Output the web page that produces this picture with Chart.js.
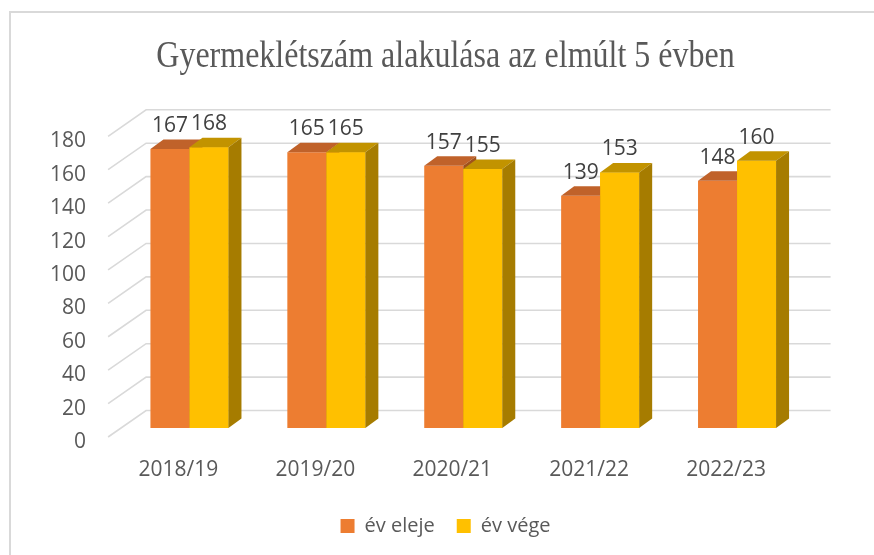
<!DOCTYPE html>
<html>
<head>
<meta charset="utf-8">
<script src="https://cdn.jsdelivr.net/npm/chart.js@4.4.0/dist/chart.umd.min.js"></script>
<style>
  html, body { margin: 0; padding: 0; background: #fff; overflow: hidden; width: 874px; height: 555px; }
  #keret { position: absolute; left: 9px; top: 11px; width: 871px; height: 560px;
           border-left: 2px solid #d9d9d9; border-top: 2px solid #d9d9d9; }
  #graf { position: absolute; left: 0; top: 0; }
</style>
</head>
<body>
<div id="keret"><canvas id="graf" width="869" height="542"></canvas></div>
<script>
// adatok
var cim = 'Gyermeklétszám alakulása az elmúlt 5 évben';
var evek = ['2018/19', '2019/20', '2020/21', '2021/22', '2022/23'];
var evEleje = [167, 165, 157, 139, 148];
var evVege = [168, 165, 155, 153, 160];
var yMin = 0, yMax = 180, yLepes = 20;

// szinek: elolap, teto, oldal
var szinek = [
  { elo: '#ED7D31', teto: '#C0622A', oldal: '#A0521C' },
  { elo: '#FFC000', teto: '#C29300', oldal: '#A67C00' }
];

// 3D hatas: padlo eleje / hatso fal eltolasa az oszlopok sikjahoz kepest
var padloX = -12.9, padloY = 9;
var falX = 25.1, falY = -17.5;
var oszlopMelyX = 13, oszlopMelyY = -9.5;

function lapok(ctx, b, c) {
  var p = b.getProps(['x', 'y', 'base', 'width'], true);
  var l = p.x - p.width / 2, r = p.x + p.width / 2;
  ctx.fillStyle = c.teto;
  ctx.beginPath();
  ctx.moveTo(l, p.y);
  ctx.lineTo(l + oszlopMelyX, p.y + oszlopMelyY);
  ctx.lineTo(r + oszlopMelyX, p.y + oszlopMelyY);
  ctx.lineTo(r, p.y);
  ctx.closePath();
  ctx.fill();
  ctx.fillStyle = c.oldal;
  ctx.beginPath();
  ctx.moveTo(r, p.y);
  ctx.lineTo(r + oszlopMelyX, p.y + oszlopMelyY);
  ctx.lineTo(r + oszlopMelyX, p.base + oszlopMelyY);
  ctx.lineTo(r, p.base);
  ctx.closePath();
  ctx.fill();
}

var haromD = {
  id: 'haromD',
  beforeDatasetsDraw: function (chart) {
    var ctx = chart.ctx, ca = chart.chartArea, y = chart.scales.y;
    ctx.save();
    ctx.strokeStyle = '#d9d9d9';
    ctx.lineWidth = 1.6;
    y.ticks.forEach(function (t) {
      var py = y.getPixelForValue(t.value);
      ctx.beginPath();
      ctx.moveTo(ca.left + padloX, py + padloY);
      ctx.lineTo(ca.left + falX, py + falY);
      ctx.lineTo(ca.right + falX, py + falY);
      ctx.stroke();
    });
    ctx.restore();
  },
  afterDatasetsDraw: function (chart) {
    var ctx = chart.ctx;
    var m0 = chart.getDatasetMeta(0), m1 = chart.getDatasetMeta(1);
    ctx.save();
    m0.data.forEach(function (b0, i) {
      var b1 = m1.data[i];
      lapok(ctx, b0, szinek[0]);
      b1.draw(ctx);
      lapok(ctx, b1, szinek[1]);
    });
    // ertekek
    ctx.font = '21px "Open Sans"';
    ctx.fillStyle = '#404040';
    ctx.textAlign = 'center';
    ctx.textBaseline = 'middle';
    chart.data.datasets.forEach(function (ds, di) {
      chart.getDatasetMeta(di).data.forEach(function (b, i) {
        ctx.fillText(ds.data[i], b.x, b.y - 23);
      });
    });
    ctx.restore();
  },
  afterDraw: function (chart) {
    // cim, kicsit megnyujtva fuggolegesen, mint az eredetin
    var ctx = chart.ctx;
    ctx.save();
    ctx.translate(chart.width / 2, 54);
    ctx.scale(1, 1.17);
    ctx.font = '32px "Liberation Serif"';
    ctx.fillStyle = '#595959';
    ctx.textAlign = 'center';
    ctx.textBaseline = 'alphabetic';
    ctx.fillText(cim, 0, 0);
    ctx.restore();
  }
};

var graf = new Chart(document.getElementById('graf'), {
  type: 'bar',
  data: {
    labels: evek,
    datasets: [{
      label: 'év eleje',
      data: evEleje,
      backgroundColor: szinek[0].elo,
      borderWidth: 0
    }, {
      label: 'év vége',
      data: evVege,
      backgroundColor: szinek[1].elo,
      borderWidth: 0
    }]
  },
  options: {
    responsive: false,
    animation: false,
    categoryPercentage: 0.57,
    barPercentage: 1.0,
    layout: { padding: { left: 0, right: 0, top: 114.3, bottom: 9 } },
    plugins: {
      title: { display: false },
      legend: {
        position: 'bottom',
        labels: {
          boxWidth: 14,
          boxHeight: 14,
          padding: 22,
          color: '#595959',
          font: { family: '"Open Sans"', size: 20 }
        }
      },
      tooltip: { enabled: false }
    },
    scales: {
      x: {
        grid: { display: false },
        border: { display: false },
        ticks: {
          color: '#595959',
          font: { family: '"Open Sans"', size: 21 },
          padding: 21,
          labelOffset: -11,
          maxRotation: 0
        },
        afterFit: function (s) { s.height = 66; }
      },
      y: {
        min: yMin,
        max: yMax,
        grid: { display: false },
        border: { display: false },
        ticks: {
          stepSize: yLepes,
          color: '#595959',
          font: { family: '"Open Sans"', size: 21 },
          padding: 27,
          labelOffset: 14
        },
        afterFit: function (s) { s.width = 110; }
      },
      jobb: {
        type: 'linear',
        position: 'right',
        grid: { display: false },
        border: { display: false },
        ticks: { display: false },
        afterFit: function (s) { s.width = 74.5; }
      }
    }
  },
  plugins: [haromD]
});
</script>
</body>
</html>
